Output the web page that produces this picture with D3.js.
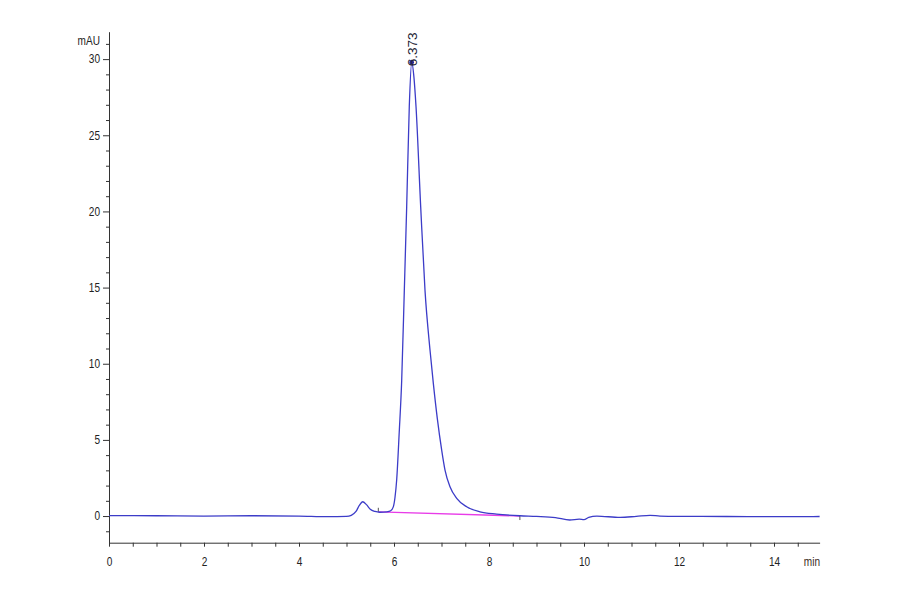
<!DOCTYPE html>
<html>
<head>
<meta charset="utf-8">
<script src="https://cdn.jsdelivr.net/npm/d3@7"></script>
<style>
    body { margin: 0; background: #fff; }
    #chart { width: 900px; height: 594px; }
    .axis text {
        font-family: "Liberation Sans", Arial, sans-serif;
        font-size: 12px;
        fill: #222;
    }
    .axis line, .axis path { stroke: #333; }
    .peak-label {
        font-family: "Liberation Sans", Arial, sans-serif;
        font-size: 13.5px;
        fill: #223;
    }
</style>
</head>
<body>
<div id="chart"></div>
<script>
// chromatogram trace (min, mAU)
const times = [0, 1, 2, 3, 4, 4.6, 5.0, 5.1, 5.2, 5.27, 5.34, 5.42, 5.5, 5.6, 5.7, 5.85, 5.93,
    5.985, 6.02, 6.057, 6.11, 6.162, 6.217, 6.267, 6.322, 6.373, 6.42, 6.463, 6.562, 6.653,
    6.758, 6.828, 6.912, 7.004, 7.074, 7.179, 7.32, 7.53, 7.81, 8.16, 8.65, 9.0, 9.4, 9.7, 9.9,
    10.0, 10.1, 10.27, 10.76, 11.1, 11.39, 11.6, 12, 13, 14, 14.96];
const signal = [0.03, 0.02, 0.0, 0.02, 0.0, -0.04, -0.02, 0.05, 0.3, 0.7, 0.94, 0.75, 0.45, 0.3, 0.25, 0.28, 0.35,
    0.6, 1.2, 2.4, 5.5, 8.9, 14.8, 20.3, 26.9, 29.8, 28.8, 26.9, 20.3, 14.8,
    10.9, 8.71, 6.4, 4.33, 3.02, 1.93, 1.16, 0.61, 0.28, 0.13, 0.02, -0.02, -0.1, -0.26, -0.2,
    -0.24, -0.08, 0.0, -0.09, -0.02, 0.05, 0.0, -0.02, -0.03, -0.04, -0.03];

// integration baseline of the main peak
const baselineTimes = [5.67, 8.65];
const baselineValues = [0.28, 0.0];

// labelled peak
const peakTimes = [6.373];
const peakHeights = [29.8];
const peakLabels = ["6.373"];

const xTickLabels = [0, 2, 4, 6, 8, 10, 12, 14];
const yTickLabels = [0, 5, 10, 15, 20, 25, 30];

class Chromatogram {
    constructor(parentElementID) {
        this.parentElementID = parentElementID;
    }

    initVis() {
        let vis = this;
        vis.svg = d3.select("#" + vis.parentElementID).append("svg")
            .attr("width", 900)
            .attr("height", 594);

        vis.xScale = d3.scaleLinear()
            .domain([0, 14.96])
            .range([109, 819.6]);

        vis.yScale = d3.scaleLinear()
            .domain([-1.75, 31.8])
            .range([542.7, 31.7]);

        vis.xAxisY = vis.yScale(-1.75);
        vis.yAxisX = vis.xScale(0);

        // the instrument font is a narrow one, squeeze the glyphs a bit
        vis.squeeze = 0.84;
    }

    narrow(sel) {
        let vis = this;
        sel.selectAll("text")
            .attr("x", function() { return (+d3.select(this).attr("x") || 0) / vis.squeeze; })
            .attr("transform", "scale(" + vis.squeeze + ",1)");
    }

    drawAxes() {
        let vis = this;

        // minor ticks every 0.5 min / 1 mAU
        let xMinor = d3.range(0.5, 15, 0.5).filter(t => t % 2 !== 0);
        let yMinor = d3.range(-1, 32, 1).filter(v => v % 5 !== 0);

        vis.svg.append("g")
            .attr("class", "axis x-minor")
            .attr("transform", "translate(0," + vis.xAxisY + ")")
            .call(d3.axisBottom(vis.xScale).tickValues(xMinor).tickSize(4).tickSizeOuter(0).tickFormat(""))
            .select(".domain").remove();

        vis.svg.append("g")
            .attr("class", "axis x-axis")
            .attr("transform", "translate(0," + vis.xAxisY + ")")
            .call(d3.axisBottom(vis.xScale).tickValues(xTickLabels).tickSize(4).tickPadding(11).tickSizeOuter(0).tickFormat(d3.format("d")))
            .call(g => vis.narrow(g));

        vis.svg.append("g")
            .attr("class", "axis y-minor")
            .attr("transform", "translate(" + vis.yAxisX + ",0)")
            .call(d3.axisLeft(vis.yScale).tickValues(yMinor).tickSize(3).tickSizeOuter(0).tickFormat(""))
            .select(".domain").remove();

        vis.svg.append("g")
            .attr("class", "axis y-axis")
            .attr("transform", "translate(" + vis.yAxisX + ",0)")
            .call(d3.axisLeft(vis.yScale).tickValues(yTickLabels).tickSize(6).tickPadding(3).tickSizeOuter(0).tickFormat(d3.format("d")))
            .call(g => vis.narrow(g));

        // unit labels
        vis.svg.append("g").attr("class", "axis")
            .attr("transform", "translate(100,45)")
            .append("text")
            .attr("text-anchor", "end")
            .text("mAU")
            .call(t => vis.narrow(d3.select(t.node().parentNode)));

        vis.svg.append("g").attr("class", "axis")
            .attr("transform", "translate(820,566)")
            .append("text")
            .attr("text-anchor", "end")
            .style("fill", "#3a2a22")
            .text("min")
            .call(t => vis.narrow(d3.select(t.node().parentNode)));
    }

    updateVis() {
        let vis = this;
        let data = times.map((t, i) => ({t: t, v: signal[i]}));

        // baseline of integration
        let base = baselineTimes.map((t, i) => ({t: t, v: baselineValues[i]}));
        vis.svg.append("path")
            .attr("class", "baseline")
            .attr("d", d3.line().x(d => vis.xScale(d.t)).y(d => vis.yScale(d.v))(base))
            .attr("fill", "none")
            .attr("stroke", "#e83ce8")
            .attr("stroke-width", 1.3);

        // small tick marks at start and end of the integration
        vis.svg.selectAll(".base-tick")
            .data(base)
            .enter().append("line")
            .attr("class", "base-tick")
            .attr("x1", d => vis.xScale(d.t))
            .attr("x2", d => vis.xScale(d.t))
            .attr("y1", (d, i) => vis.yScale(d.v) + (i === 0 ? -4 : 0))
            .attr("y2", (d, i) => vis.yScale(d.v) + (i === 0 ? 0 : 4))
            .attr("stroke", "#555")
            .attr("stroke-width", 1);

        let line = d3.line()
            .x(d => vis.xScale(d.t))
            .y(d => vis.yScale(d.v))
            .curve(d3.curveMonotoneX);

        vis.svg.append("path")
            .attr("class", "trace")
            .attr("d", line(data))
            .attr("fill", "none")
            .attr("stroke", "#3c3cc8")
            .attr("stroke-width", 1.3);

        // peak marker and retention time label
        let peaks = peakTimes.map((t, i) => ({t: t, v: peakHeights[i], label: peakLabels[i]}));

        vis.svg.selectAll(".peak-mark")
            .data(peaks)
            .enter().append("circle")
            .attr("class", "peak-mark")
            .attr("cx", d => vis.xScale(d.t))
            .attr("cy", d => vis.yScale(d.v))
            .attr("r", 2.3)
            .attr("fill", "#2a2a90");

        vis.svg.selectAll(".peak-label")
            .data(peaks)
            .enter().append("text")
            .attr("class", "peak-label")
            .attr("text-anchor", "start")
            .attr("transform", d => "translate(" + (vis.xScale(d.t) + 5) + "," + (vis.yScale(d.v) + 4) + ") rotate(-90)")
            .text(d => d.label);
    }
}

let chart = new Chromatogram("chart");
chart.initVis();
chart.drawAxes();
chart.updateVis();
</script>
</body>
</html>
